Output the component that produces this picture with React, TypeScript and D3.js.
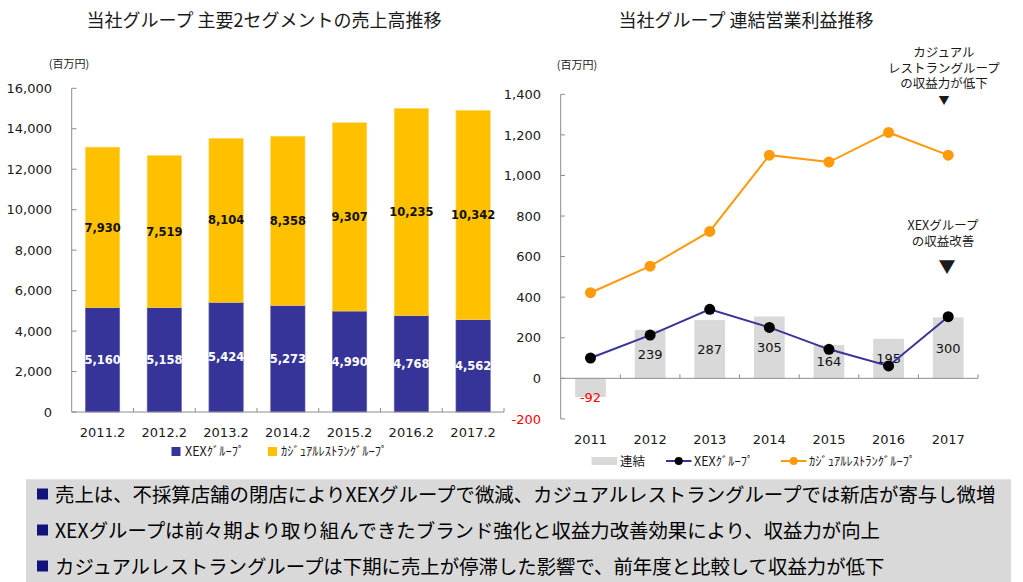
import React from "react";
import * as d3 from "d3";

const periods = ["2011.2", "2012.2", "2013.2", "2014.2", "2015.2", "2016.2", "2017.2"];
const xexSales = [5160, 5158, 5424, 5273, 4990, 4768, 4562];
const casualSales = [7930, 7519, 8104, 8358, 9307, 10235, 10342];
const salesTicks = [0, 2000, 4000, 6000, 8000, 10000, 12000, 14000, 16000];

const years = ["2011", "2012", "2013", "2014", "2015", "2016", "2017"];
const consolidated = [-92, 239, 287, 305, 164, 195, 300];
const xexProfit = [100, 213, 340, 251, 143, 61, 304];
const casualProfit = [422, 553, 724, 1100, 1066, 1212, 1100];
const profitTicks = [-200, 0, 200, 400, 600, 800, 1000, 1200, 1400];

const notes = [
  "売上は、不採算店舗の閉店によりXEXグループで微減、カジュアルレストラングループでは新店が寄与し微増",
  "XEXグループは前々期より取り組んできたブランド強化と収益力改善効果により、収益力が向上",
  "カジュアルレストラングループは下期に売上が停滞した影響で、前年度と比較して収益力が低下",
];
const casualNote = ["カジュアル", "レストラングループ", "の収益力が低下"];
const xexNote = ["XEXグループ", "の収益改善"];

const NAVY = "#363498";
const YELLOW = "#FFC000";
const ORANGE = "#FF9A0A";
const GRAY = "#D9D9D9";
const AXIS = "#8c8c8c";
const TXT = "#1a1a1a";
const NUM = "'DejaVu Sans', Verdana, sans-serif";
const JP = "'Noto Sans CJK JP', 'Noto Sans', sans-serif";
const comma = d3.format(",");
const fmt = (v: number) => (v < 0 ? "-" + comma(-v) : comma(v));

export default function App() {
  const xL = d3.scaleBand<string>().domain(periods).range([71.7, 504]).paddingInner(0.444).paddingOuter(0.222);
  const yL = d3.scaleLinear().domain([0, 16000]).range([412, 88.3]);
  const xR = d3.scaleBand<string>().domain(years).range([560.7, 978]).paddingInner(0.485).paddingOuter(0.2425);
  const yR = d3.scaleLinear().domain([-200, 1400]).range([418.9, 94.3]);
  const cx = (y: string) => (xR(y) as number) + xR.bandwidth() / 2;

  const lineGen = (vals: number[]) =>
    d3.line<number>().x((_, i) => cx(years[i])).y((v) => yR(v))(vals) as string;

  const stepL = xL.step();
  const stepR = xR.step();

  return (
    <svg width={1023} height={582} style={{ position: "absolute", left: 0, top: 0, background: "#fff" }}>
      <text x={264} y={27} textAnchor="middle" fontFamily={JP} fontSize={18} fill={TXT}>
        当社グループ 主要2セグメントの売上高推移
      </text>
      <text x={746} y={27} textAnchor="middle" fontFamily={JP} fontSize={18} fill={TXT}>
        当社グループ 連結営業利益推移
      </text>

      {/* ===== Left chart ===== */}
      <text x={69} y={68} textAnchor="middle" fontFamily={JP} fontSize={11} fill={TXT}>(百万円)</text>
      {salesTicks.map((t) => (
        <g key={t}>
          <line x1={71.7} x2={76.5} y1={yL(t)} y2={yL(t)} stroke={AXIS} />
          <text x={52} y={yL(t)} dy="0.36em" textAnchor="end" fontFamily={NUM} fontSize={13} fill={TXT}>
            {fmt(t)}
          </text>
        </g>
      ))}
      {periods.map((p, i) => {
        const x = xL(p) as number;
        const w = xL.bandwidth();
        const y0 = yL(0);
        const y1 = yL(xexSales[i]);
        const y2 = yL(xexSales[i] + casualSales[i]);
        return (
          <g key={p}>
            <rect x={x} y={y1} width={w} height={y0 - y1} fill={NAVY} stroke="#6a68b8" strokeWidth={0.6} />
            <rect x={x} y={y2} width={w} height={y1 - y2} fill={YELLOW} stroke="#ffd860" strokeWidth={0.6} />
            <text x={x + w / 2} y={(y0 + y1) / 2} dy="0.36em" textAnchor="middle" fontFamily={NUM} fontSize={11.5} fontWeight="bold" fill="#fff">
              {fmt(xexSales[i])}
            </text>
            <text x={x + w / 2} y={(y1 + y2) / 2} dy="0.36em" textAnchor="middle" fontFamily={NUM} fontSize={11.5} fontWeight="bold" fill="#111">
              {fmt(casualSales[i])}
            </text>
            <text x={x + w / 2} y={437} textAnchor="middle" fontFamily={NUM} fontSize={13} fill={TXT}>{p}</text>
          </g>
        );
      })}
      <line x1={71.7} x2={71.7} y1={88.3} y2={412} stroke={AXIS} />
      <line x1={71.7} x2={504} y1={412} y2={412} stroke={AXIS} />
      {periods.map((p, i) => {
        const bx = 71.7 + stepL * (i + 1);
        return <line key={"tb" + p} x1={bx} x2={bx} y1={412} y2={408} stroke={AXIS} />;
      })}
      <rect x={171.5} y={447} width={9} height={9} fill={NAVY} />
      <text x={185} y={456} fontFamily={JP} fontSize={12.5} fill={TXT}>XEXｸﾞﾙｰﾌﾟ</text>
      <rect x={268} y={447} width={9} height={9} fill={YELLOW} />
      <text x={281} y={456} fontFamily={JP} fontSize={12.5} fill={TXT}>ｶｼﾞｭｱﾙﾚｽﾄﾗﾝｸﾞﾙｰﾌﾟ</text>

      {/* ===== Right chart ===== */}
      <text x={577} y={69} textAnchor="middle" fontFamily={JP} fontSize={11} fill={TXT}>(百万円)</text>
      {profitTicks.map((t) => (
        <g key={t}>
          <line x1={560.7} x2={565} y1={yR(t)} y2={yR(t)} stroke={AXIS} />
          <text x={541} y={yR(t)} dy="0.36em" textAnchor="end" fontFamily={NUM} fontSize={13} fill={t < 0 ? "#FF0000" : TXT}>
            {fmt(t)}
          </text>
        </g>
      ))}
      {years.map((y, i) => {
        const x = xR(y) as number;
        const w = xR.bandwidth();
        const v = consolidated[i];
        const top = Math.min(yR(v), yR(0));
        const h = Math.abs(yR(v) - yR(0));
        const ly = v < 0 ? yR(v) : (yR(v) + yR(0)) / 2;
        return (
          <g key={y}>
            <rect x={x} y={top} width={w} height={h} fill={GRAY} />
            <text x={x + w / 2} y={ly} dy="0.36em" textAnchor="middle" fontFamily={NUM} fontSize={13} fill={v < 0 ? "#FF0000" : "#111"}>
              {fmt(v)}
            </text>
            <text x={x + w / 2} y={444} textAnchor="middle" fontFamily={NUM} fontSize={13} fill={TXT}>{y}</text>
          </g>
        );
      })}
      <line x1={560.7} x2={560.7} y1={94.3} y2={418.9} stroke={AXIS} />
      <line x1={560.7} x2={978} y1={yR(0)} y2={yR(0)} stroke={AXIS} />
      {years.map((y, i) => {
        const bx = 560.7 + stepR * (i + 1);
        return <line key={"tr" + y} x1={bx} x2={bx} y1={yR(0)} y2={yR(0) - 4} stroke={AXIS} />;
      })}
      <path d={lineGen(casualProfit)} fill="none" stroke={ORANGE} strokeWidth={2} />
      {casualProfit.map((v, i) => (
        <circle key={"co" + i} cx={cx(years[i])} cy={yR(v)} r={5.5} fill={ORANGE} />
      ))}
      <path d={lineGen(xexProfit)} fill="none" stroke={NAVY} strokeWidth={2} />
      {xexProfit.map((v, i) => (
        <circle key={"xo" + i} cx={cx(years[i])} cy={yR(v)} r={5.5} fill="#000" />
      ))}

      <g fontFamily={JP} fontSize={12.5} fill={TXT} textAnchor="middle">
        <text x={944} y={57}>
          {casualNote.map((s, i) => (
            <tspan key={i} x={944} dy={i === 0 ? 0 : 15.5}>{s}</tspan>
          ))}
        </text>
        <text x={944} y={105} fontSize={11}>▼</text>
        <text x={943} y={229.5}>
          {xexNote.map((s, i) => (
            <tspan key={i} x={943} dy={i === 0 ? 0 : 16.5}>{s}</tspan>
          ))}
        </text>
        <text x={947} y={273} fontSize={17}>▼</text>
      </g>

      <rect x={591.5} y={457} width={25.5} height={8} fill={GRAY} />
      <text x={620} y={465.5} fontFamily={JP} fontSize={12.5} fill={TXT}>連結</text>
      <line x1={666} x2={691.5} y1={461} y2={461} stroke={NAVY} strokeWidth={2} />
      <circle cx={678.7} cy={461} r={4} fill="#000" />
      <text x={694} y={465.5} fontFamily={JP} fontSize={12.5} fill={TXT}>XEXｸﾞﾙｰﾌﾟ</text>
      <line x1={781} x2={806.5} y1={461} y2={461} stroke={ORANGE} strokeWidth={2} />
      <circle cx={793.7} cy={461} r={4} fill={ORANGE} />
      <text x={809} y={465.5} fontFamily={JP} fontSize={12.5} fill={TXT}>ｶｼﾞｭｱﾙﾚｽﾄﾗﾝｸﾞﾙｰﾌﾟ</text>

      <rect x={26} y={479.3} width={985} height={103} fill="#D9D9D9" />
      {notes.map((n, i) => (
        <g key={i}>
          <rect x={37} y={488.5 + i * 36} width={11} height={11} fill="#12127a" />
          <text x={55} y={501.5 + i * 36} fontFamily={JP} fontSize={19.4} fill="#000">{n}</text>
        </g>
      ))}
    </svg>
  );
}
